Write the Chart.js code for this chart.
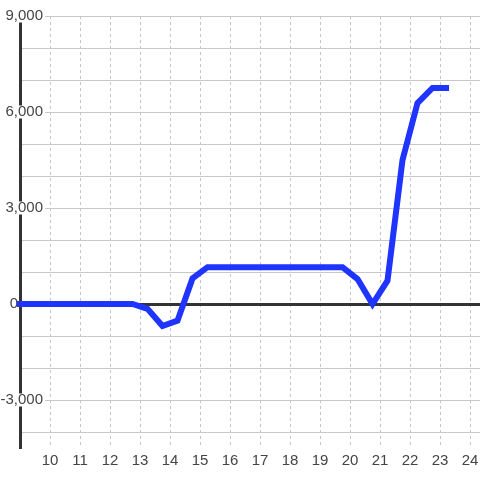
<!DOCTYPE html>
<html lang="en">
<head>
    <meta charset="UTF-8">
    <title>Line chart</title>
    <script src="https://cdn.jsdelivr.net/npm/chart.js"></script>
    <style>
        html, body {
            margin: 0;
            padding: 0;
            background: #ffffff;
        }
        #wrap {
            width: 480px;
            height: 480px;
        }
    </style>
</head>
<body>
    <div id="wrap">
        <canvas id="myChart" width="480" height="480"></canvas>
    </div>
    <script>
        // hours (half-hour points) and values
        const hours = [8.75, 9.25, 9.75, 10.25, 10.75, 11.25, 11.75, 12.25, 12.75,
            13.25, 13.75, 14.25, 14.75, 15.25, 15.75, 16.25, 16.75, 17.25, 17.75,
            18.25, 18.75, 19.25, 19.75, 20.25, 20.75, 21.25, 21.75, 22.25, 22.75, 23.3];
        const values = [0, 0, 0, 0, 0, 0, 0, 0, 0,
            -150, -690, -520, 800, 1150, 1150, 1150, 1150, 1150, 1150,
            1150, 1150, 1150, 1150, 780, 0, 730, 4500, 6280, 6750, 6750];
        const yTickValues = [-4000, -3000, -2000, -1000, 0, 1000, 2000, 3000, 4000, 5000, 6000, 7000, 8000, 9000];
        const labelledYTicks = [-3000, 0, 3000, 6000, 9000];
        const hiddenXTicks = [9];

        const labelFont = { family: "'Liberation Sans', Arial, sans-serif", size: 15, lineHeight: 1 };

        // the zero label sits left of the axis in the original, pad it with spaces
        function yLabel(v) {
            if (!labelledYTicks.includes(v)) return '';
            if (v === 0) return '0      ';
            return v.toLocaleString('en-US');
        }

        const ctx = document.getElementById('myChart').getContext('2d');
        const myChart = new Chart(ctx, {
            type: 'line',
            data: {
                datasets: [{
                    data: hours.map((h, i) => ({ x: h, y: values[i] })),
                    borderColor: '#1f34ff',
                    borderWidth: 6,
                    pointRadius: 0,
                    tension: 0,
                    fill: false,
                    clip: 3
                }]
            },
            options: {
                responsive: false,
                animation: false,
                layout: { padding: { top: 16, left: 0, right: 0, bottom: 0 } },
                plugins: {
                    legend: { display: false },
                    tooltip: { enabled: false }
                },
                scales: {
                    x: {
                        type: 'linear',
                        min: 9,
                        max: 24.333,
                        afterFit: scale => {
                            scale.height = 32;
                            scale.paddingLeft = 0;
                            scale.paddingRight = 0;
                        },
                        border: { display: false, dash: [3, 3] },
                        grid: {
                            drawTicks: false,
                            color: c => hiddenXTicks.includes(c.tick.value) ? 'rgba(0,0,0,0)' : '#c4c4c4',
                            lineWidth: 1
                        },
                        ticks: {
                            stepSize: 1,
                            includeBounds: false,
                            padding: 5,
                            color: '#444',
                            font: labelFont,
                            maxRotation: 0,
                            autoSkip: false,
                            callback: v => hiddenXTicks.includes(v) ? '' : String(v)
                        }
                    },
                    y: {
                        type: 'linear',
                        min: -4500,
                        max: 9000,
                        afterFit: scale => {
                            scale.width = 20;
                            scale.paddingTop = 0;
                            scale.paddingBottom = 0;
                        },
                        afterBuildTicks: scale => {
                            scale.ticks = yTickValues.map(v => ({ value: v }));
                        },
                        border: { display: true, color: '#333', width: 3 },
                        grid: {
                            drawTicks: false,
                            color: c => c.tick.value === 0 ? '#333' : '#c8c8c8',
                            lineWidth: c => c.tick.value === 0 ? 3 : 1
                        },
                        ticks: {
                            mirror: true,
                            crossAlign: 'far',
                            padding: -19.5,
                            color: '#444',
                            font: labelFont,
                            autoSkip: false,
                            showLabelBackdrop: true,
                            backdropColor: c => (c.tick.value !== 0 && labelledYTicks.includes(c.tick.value)) ? '#ffffff' : 'rgba(0,0,0,0)',
                            backdropPadding: { top: -1, bottom: -1, left: 1, right: 2 },
                            callback: yLabel
                        }
                    }
                }
            }
        });
    </script>
</body>
</html>
